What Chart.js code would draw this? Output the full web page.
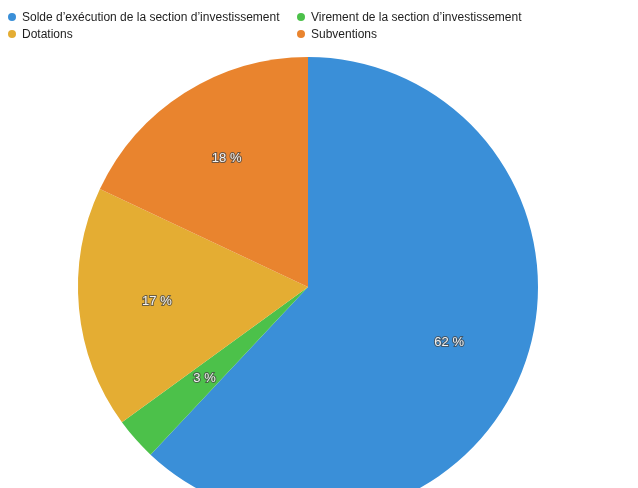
<!DOCTYPE html>
<html>
<head>
<meta charset="utf-8">
<script src="https://cdn.jsdelivr.net/npm/chart.js@4.4.0/dist/chart.umd.min.js"></script>
<style>
  html, body { margin: 0; padding: 0; overflow: hidden; background: #ffffff; width: 638px; height: 488px; }
  #wrap { position: relative; width: 638px; height: 488px; overflow: hidden; }
  #c { position: absolute; left: 0; top: 0; }
  .leg { position: absolute; font-family: "Liberation Sans", Arial, sans-serif; font-size: 12px; color: #1e1e1e; white-space: nowrap; line-height: 14px; }
  .leg .dot { position: absolute; left: -14px; top: 3px; width: 8px; height: 8px; border-radius: 50%; }
</style>
</head>
<body>
<div id="wrap">
  <canvas id="c" width="638" height="540"></canvas>
  <div id="legend"></div>
</div>
<script>
const categories = [
  "Solde d\u2019exécution de la section d\u2019investissement",
  "Virement de la section d\u2019investissement",
  "Dotations",
  "Subventions"
];
const shares = [62, 3, 17, 18];
const sliceColors = ["#3a8fd8", "#4cc14a", "#e4ad33", "#e9842e"];

// HTML legend in two columns
const legendPos = [[22, 10], [311, 10], [22, 27], [311, 27]];
const legendEl = document.getElementById('legend');
categories.forEach((name, i) => {
  const d = document.createElement('div');
  d.className = 'leg';
  d.style.left = legendPos[i][0] + 'px';
  d.style.top = legendPos[i][1] + 'px';
  const dot = document.createElement('span');
  dot.className = 'dot';
  dot.style.background = sliceColors[i];
  d.appendChild(dot);
  d.appendChild(document.createTextNode(name));
  legendEl.appendChild(d);
});

const pctLabels = {
  id: 'pctLabels',
  afterDatasetsDraw(chart) {
    const ctx = chart.ctx;
    const meta = chart.getDatasetMeta(0);
    const data = chart.data.datasets[0].data;
    const total = data.reduce((a, b) => a + b, 0);
    ctx.save();
    ctx.font = '13px "Liberation Sans", Arial, sans-serif';
    ctx.textAlign = 'center';
    ctx.textBaseline = 'middle';
    meta.data.forEach((arc, i) => {
      const p = arc.getProps(['x', 'y', 'startAngle', 'endAngle', 'outerRadius'], true);
      const mid = (p.startAngle + p.endAngle) / 2;
      const f = data[i] < 5 ? 0.6 : 0.66;
      const x = p.x + Math.cos(mid) * p.outerRadius * f;
      const y = p.y + Math.sin(mid) * p.outerRadius * f;
      const txt = Math.round(data[i] / total * 100) + ' %';
      ctx.lineWidth = 2;
      ctx.strokeStyle = 'rgba(70,70,70,0.75)';
      ctx.strokeText(txt, x, y);
      ctx.fillStyle = '#f2f2f2';
      ctx.fillText(txt, x, y);
    });
    ctx.restore();
  }
};

new Chart(document.getElementById('c'), {
  type: 'pie',
  data: {
    labels: categories,
    datasets: [{
      data: shares,
      backgroundColor: sliceColors,
      borderWidth: 0
    }]
  },
  options: {
    responsive: false,
    animation: false,
    layout: { padding: { top: 57, bottom: 23, left: 78, right: 100 } },
    plugins: {
      legend: { display: false },
      tooltip: { enabled: false }
    }
  },
  plugins: [pctLabels]
});
</script>
</body>
</html>
